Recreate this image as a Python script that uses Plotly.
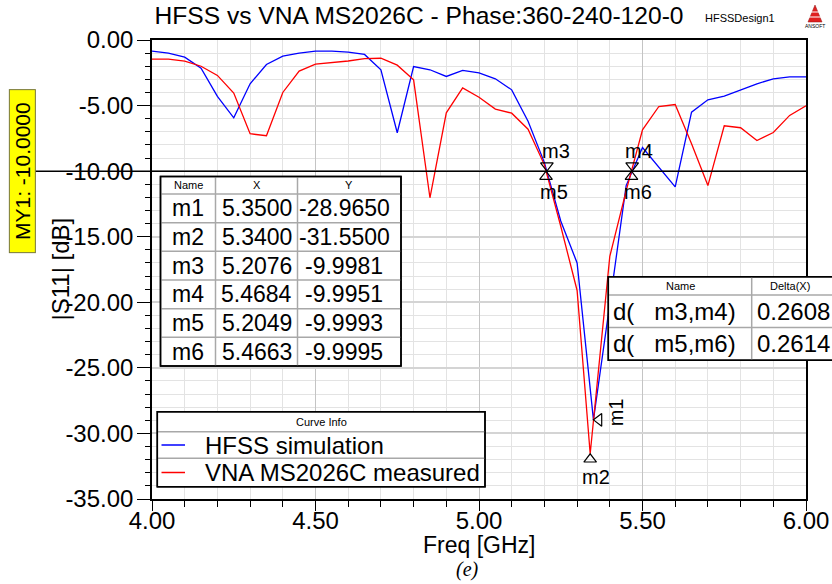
import plotly.graph_objects as go

# ---------------- data ----------------
freq_hfss = [4.00, 4.05, 4.10, 4.15, 4.20, 4.25, 4.30, 4.35, 4.40, 4.45,
             4.50, 4.55, 4.60, 4.65, 4.70, 4.75, 4.80, 4.85, 4.90, 4.95,
             5.00, 5.05, 5.10, 5.15, 5.20, 5.25, 5.30, 5.35, 5.40, 5.45,
             5.50, 5.55, 5.60, 5.65, 5.70, 5.75, 5.80, 5.85, 5.90, 5.95, 6.00]
s11_hfss = [-0.85, -1.00, -1.31, -2.15, -4.30, -5.93, -3.34, -1.87, -1.23, -1.00,
            -0.85, -0.85, -0.93, -1.10, -2.27, -7.07, -2.02, -2.27, -2.78, -2.32,
            -2.50, -2.96, -3.80, -6.20, -9.35, -13.80, -17.00, -28.965, -20.10, -11.10,
            -8.20, -9.70, -11.20, -5.50, -4.56, -4.28, -3.80, -3.34, -2.96, -2.81, -2.81]

freq_vna = [4.00, 4.05, 4.10, 4.15, 4.20, 4.25, 4.30, 4.35, 4.40, 4.45,
            4.50, 4.55, 4.60, 4.65, 4.70, 4.75, 4.80, 4.85, 4.90, 4.95,
            5.00, 5.05, 5.10, 5.15, 5.20, 5.25, 5.30, 5.34, 5.40, 5.45,
            5.50, 5.55, 5.60, 5.65, 5.70, 5.75, 5.80, 5.85, 5.90, 5.95, 6.00]
s11_vna = [-1.46, -1.46, -1.61, -2.00, -2.70, -4.05, -7.15, -7.30, -4.00, -2.37,
           -1.84, -1.72, -1.60, -1.42, -1.39, -1.92, -3.04, -12.03, -5.55, -3.65,
           -4.36, -5.27, -5.58, -6.80, -9.52, -14.20, -19.10, -31.55, -16.50, -11.50,
           -6.85, -5.07, -4.92, -7.91, -11.10, -6.54, -6.69, -7.66, -7.05, -5.75, -5.02]

marker_names = ["m1", "m2", "m3", "m4", "m5", "m6"]
marker_freq = [5.3500, 5.3400, 5.2076, 5.4684, 5.2049, 5.4663]
marker_s11 = [-28.9650, -31.5500, -9.9981, -9.9951, -9.9993, -9.9995]
delta_pairs = [("m3", "m4"), ("m5", "m6")]
ref_level = -10.0

x_ticks = [4.0, 4.5, 5.0, 5.5, 6.0]
y_ticks = [0, -5, -10, -15, -20, -25, -30, -35]

# ---------------- geometry helpers (pixel -> paper) ----------------
W, H = 832, 584
L, R, T, B = 152, 806, 40, 499


def px(xp):
    return (xp - L) / (R - L)


def py(yp):
    return (B - yp) / (B - T)


FONT = "Liberation Sans, Arial, sans-serif"
BLUE = "#0000ff"
RED = "#ff0000"
GRID_MINOR = "#e3e3e3"
GRID_MAJOR = "#c4c4c4"
CELL_LINE = "#a8a8a8"

fig = go.Figure()

fig.add_trace(go.Scatter(x=freq_hfss, y=s11_hfss, mode="lines",
                         line=dict(color=BLUE, width=1.3),
                         name="HFSS simulation", showlegend=False, hoverinfo="skip"))
fig.add_trace(go.Scatter(x=freq_vna, y=s11_vna, mode="lines",
                         line=dict(color=RED, width=1.3),
                         name="VNA MS2026C measured", showlegend=False, hoverinfo="skip"))

# marker glyph orientation and label placement (angle, label dx, label dy, text angle)
marker_style = {
    "m1": (-90, 22, 8, -90),
    "m2": (0, 6, -23, 0),
    "m3": (180, 9, 20, 0),
    "m4": (180, 7, 20, 0),
    "m5": (0, 8, -21, 0),
    "m6": (0, 7, -21, 0),
}
TRI = 11
fig.add_trace(go.Scatter(
    x=marker_freq, y=marker_s11, mode="markers",
    marker=dict(symbol="triangle-up-open", size=TRI, color="black",
                line=dict(color="black", width=1.2),
                angle=[marker_style[n][0] for n in marker_names],
                standoff=TRI / 2),
    showlegend=False, hoverinfo="skip", cliponaxis=False))

annotations = []
shapes = []

for n, f, v in zip(marker_names, marker_freq, marker_s11):
    _, dx, dy, ta = marker_style[n]
    annotations.append(dict(x=f, y=v, xref="x", yref="y", text=n, showarrow=False,
                            xshift=dx, yshift=dy, textangle=ta,
                            xanchor="center", yanchor="middle",
                            font=dict(family=FONT, size=20, color="black")))

# MY1 reference line
shapes.append(dict(type="line", xref="paper", yref="y", x0=px(35), x1=1,
                   y0=ref_level, y1=ref_level, line=dict(color="black", width=1.5)))
annotations.append(dict(x=px(22), y=ref_level, xref="paper", yref="y",
                        xanchor="center", yanchor="middle",
                        text=f"MY1: {ref_level:.4f}", showarrow=False, textangle=-90,
                        bgcolor="#ffff00", bordercolor="#77773a", borderwidth=1,
                        borderpad=1, width=160, height=23,
                        font=dict(family=FONT, size=21, color="black")))


def box(x0, y0, x1, y1, fill="white", color="black", width=1.5):
    shapes.append(dict(type="rect", xref="paper", yref="paper",
                       x0=px(x0), x1=px(x1), y0=py(y0), y1=py(y1),
                       fillcolor=fill, line=dict(color=color, width=width)))


def hline(x0, x1, yp, color=CELL_LINE, width=1.5):
    shapes.append(dict(type="line", xref="paper", yref="paper",
                       x0=px(x0), x1=px(x1), y0=py(yp), y1=py(yp),
                       line=dict(color=color, width=width)))


def vline(xp, y0, y1, color=CELL_LINE, width=1.5):
    shapes.append(dict(type="line", xref="paper", yref="paper",
                       x0=px(xp), x1=px(xp), y0=py(y0), y1=py(y1),
                       line=dict(color=color, width=width)))


def text(xp, yp, s, size, anchor="center", angle=0, family=FONT):
    annotations.append(dict(x=px(xp), y=py(yp), xref="paper", yref="paper", text=s,
                            showarrow=False, xanchor=anchor, yanchor="middle",
                            textangle=angle,
                            font=dict(family=family, size=size, color="black")))


# ---------------- marker table ----------------
cols = [160.5, 215.5, 297.5, 401]
top, head_bot = 176.5, 194
row_h = 28.67
bottom = head_bot + row_h * len(marker_names)
box(cols[0], top, cols[-1], bottom)
hline(cols[0], cols[-1], head_bot)
for i in range(1, len(marker_names)):
    hline(cols[0], cols[-1], head_bot + i * row_h)
for c in cols[1:-1]:
    vline(c, top, bottom)
box(cols[0], top, cols[-1], bottom, fill="rgba(0,0,0,0)")
for j, h in enumerate(["Name", "X", "Y"]):
    text((cols[j] + cols[j + 1]) / 2, (top + head_bot) / 2, h, 11)
for i, (n, f, v) in enumerate(zip(marker_names, marker_freq, marker_s11)):
    yc = head_bot + (i + 0.5) * row_h
    text((cols[0] + cols[1]) / 2, yc, n, 23)
    text((cols[1] + cols[2]) / 2, yc, f"{f:.4f}", 23)
    text((cols[2] + cols[3]) / 2 - 5, yc, f"{v:.4f}", 23)

# ---------------- delta table ----------------
dl, dr, dmid = 608.3, 900, 751.7
dtop, dhead = 276.7, 295
drow = 32.6
dbot = dhead + drow * len(delta_pairs)
box(dl, dtop, dr, dbot)
hline(dl, dr, dhead)
hline(dl, dr, dhead + drow)
vline(dmid, dtop, dbot)
box(dl, dtop, dr, dbot, fill="rgba(0,0,0,0)")
text((dl + dmid) / 2, (dtop + dhead) / 2, "Name", 11)
text(790, (dtop + dhead) / 2, "Delta(X)", 11)
for i, (a, b) in enumerate(delta_pairs):
    d = marker_freq[marker_names.index(b)] - marker_freq[marker_names.index(a)]
    yc = dhead + (i + 0.5) * drow
    text(611, yc, f"d(&nbsp;&nbsp;&nbsp;{a},{b})", 24, anchor="left")
    text(755, yc, f"{d:.4f}", 24, anchor="left")

# ---------------- curve info ----------------
ll, lr = 157.3, 485
ltop, lhead, lmid, lbot = 411.7, 431.7, 458.3, 486.7
box(ll, ltop, lr, lbot)
hline(ll, lr, lhead)
hline(ll, lr, lmid)
box(ll, ltop, lr, lbot, fill="rgba(0,0,0,0)")
text((ll + lr) / 2, (ltop + lhead) / 2, "Curve Info", 11)
for yc, col, lab in [((lhead + lmid) / 2, BLUE, "HFSS simulation"),
                     ((lmid + lbot) / 2, RED, "VNA MS2026C measured")]:
    shapes.append(dict(type="line", xref="paper", yref="paper",
                       x0=px(161.5), x1=px(185), y0=py(yc), y1=py(yc),
                       line=dict(color=col, width=1.5)))
    text(203, yc, lab, 24, anchor="left")

# ---------------- axis titles, captions ----------------
text(60, (T + B) / 2, "|S11| [dB]", 24, angle=-90)
text((L + R) / 2, 545, "Freq [GHz]", 23)
text(467, 569, "<i>(e)</i>", 20, family="Liberation Serif, Times New Roman, serif")
text(740, 18, "HFSSDesign1", 11)

# small company logo at top right
shapes.append(dict(type="path", xref="paper", yref="paper",
                   path=f"M {px(808)},{py(22)} L {px(822)},{py(22)} L {px(815)},{py(5)} Z",
                   fillcolor="#e02020", line=dict(color="#901010", width=0.5)))
for yy in (12, 17):
    shapes.append(dict(type="line", xref="paper", yref="paper",
                       x0=px(808), x1=px(822), y0=py(yy), y1=py(yy),
                       line=dict(color="white", width=1)))
text(815, 26, "ANSOFT", 5)

fig.update_layout(
    width=W, height=H,
    margin=dict(l=L, r=W - R, t=T, b=H - B, autoexpand=False),
    paper_bgcolor="white", plot_bgcolor="white",
    title=dict(text="HFSS vs VNA MS2026C - Phase:360-240-120-0",
               x=419 / W, xref="container", xanchor="center",
               y=1 - 15 / H, yref="container", yanchor="middle",
               font=dict(family=FONT, size=24.6, color="black")),
    shapes=shapes, annotations=annotations,
    showlegend=False,
)

fig.update_xaxes(
    automargin=False,
    range=[4, 6], tickmode="array", tickvals=x_ticks,
    ticktext=[f"{v:.2f}" for v in x_ticks],
    ticks="outside", ticklen=10, tickwidth=1, tickcolor="black",
    tickfont=dict(family=FONT, size=24, color="black"),
    ticklabelstandoff=-11,
    showgrid=True, gridcolor=GRID_MAJOR, gridwidth=1,
    minor=dict(tickmode="linear", tick0=4, dtick=0.1, ticks="outside", ticklen=6,
               tickcolor="black", showgrid=True, gridcolor=GRID_MINOR, gridwidth=1),
    showline=True, linecolor="black", linewidth=1.5, mirror=True, zeroline=False,
)
fig.update_yaxes(
    automargin=False,
    range=[-35, 0], tickmode="array", tickvals=y_ticks,
    ticktext=[f"{v:.2f}" for v in y_ticks],
    ticks="outside", ticklen=13, tickwidth=1, tickcolor="black",
    tickfont=dict(family=FONT, size=24, color="black"),
    ticklabelstandoff=-1,
    showgrid=True, gridcolor="#d4d4d4", gridwidth=2,
    minor=dict(tickmode="linear", tick0=0, dtick=1, ticks="outside", ticklen=5,
               tickcolor="black", showgrid=True, gridcolor=GRID_MINOR, gridwidth=1),
    showline=True, linecolor="black", linewidth=1.5, mirror=True, zeroline=False,
)

fig.write_html("out.html")
